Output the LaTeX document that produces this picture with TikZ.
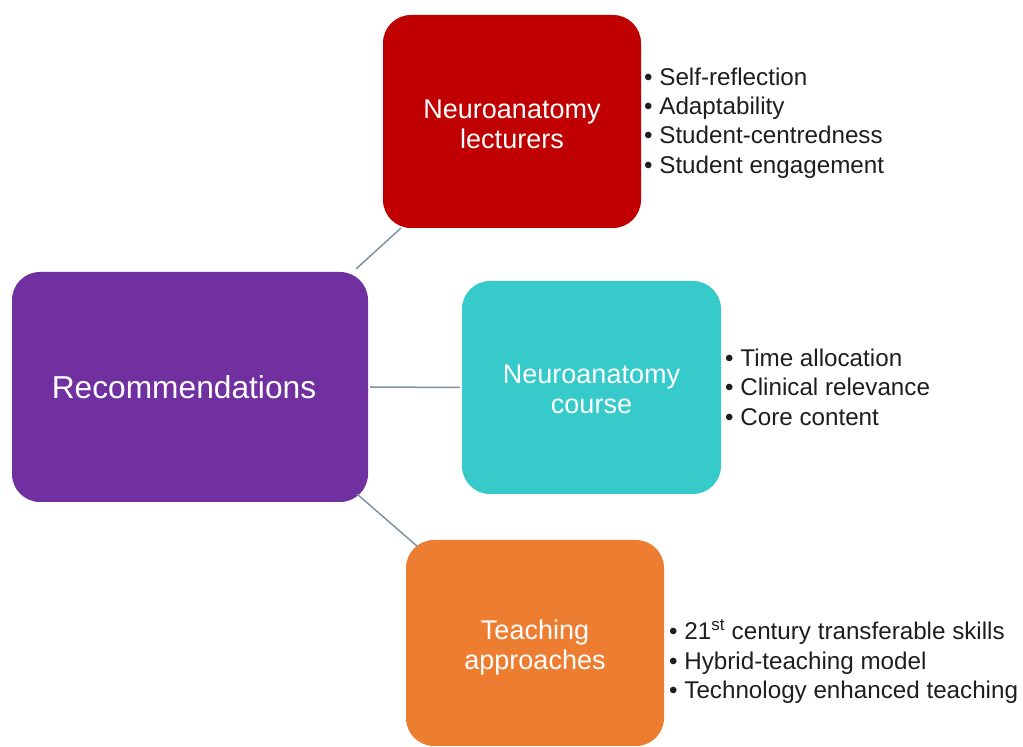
\documentclass[tikz,border=0pt]{standalone}
\usepackage{fontspec}
\setmainfont{Liberation Sans}
\usetikzlibrary{calc}
\definecolor{lectred}{HTML}{C00000}
\definecolor{recpurple}{HTML}{7030A0}
\definecolor{courseteal}{HTML}{36CACA}
\definecolor{teachorange}{HTML}{ED7D31}
\definecolor{linkgray}{HTML}{7F93A8}
\definecolor{bullettext}{HTML}{1E1E1E}
\begin{document}
\begin{tikzpicture}[x=1pt,y=1pt,
  box/.style={rounded corners=28pt, inner sep=0pt, text=white, align=center,
              font=\fontsize{27}{30}\selectfont},
  bullets/.style={anchor=west, inner sep=0pt, align=left, text=bullettext,
                  font=\fontsize{24.2}{29.5}\selectfont},
  link/.style={draw=linkgray, line width=1.5pt}]
\useasboundingbox[fill=white] (0,0) rectangle (1023,747);

% central node
\node[box, fill=recpurple, minimum width=356pt, minimum height=230pt,
      font=\fontsize{31.7}{34}\selectfont] (rec) at (190,360)
      {\mbox{Recommendations\hspace{12pt}}};

% three branches (the struts lower the label a little inside its box)
\node[box, fill=lectred, minimum width=258pt, minimum height=213pt] (lect) at (512,625.5)
      {\rule{0pt}{23.5pt}Neuroanatomy\\lecturers};
\node[box, fill=courseteal, minimum width=259pt, minimum height=213pt] (course) at (591.5,359.5)
      {\rule{0pt}{21.5pt}Neuroanatomy\\course};
\node[box, fill=teachorange, minimum width=258pt, minimum height=206pt] (teach) at (535,104)
      {\rule{0pt}{29.5pt}Teaching\\approaches};

% connectors
\draw[link] ($(rec.north east)+(-12,3)$) -- ($(lect.south west)+(18,0)$);
\draw[link] ($(rec.east)+(2,0)$) -- ($(course.west)+(-2,0)$);
\draw[link] ($(rec.south east)+(-11,8)$) -- ($(teach.north west)+(12,-7)$);

% bullet lists
\node[bullets] (lectlist) at (644,624) {• Self-reflection\\• Adaptability\\• Student-centredness\\• Student engagement};
\node[bullets] (courselist) at (725,360) {• Time allocation\\• Clinical relevance\\• Core content};
\node[bullets] (teachlist) at (669,85) {• 21\textsuperscript{st} century transferable skills\\• Hybrid-teaching model\\• Technology enhanced teaching};
\end{tikzpicture}
\end{document}
